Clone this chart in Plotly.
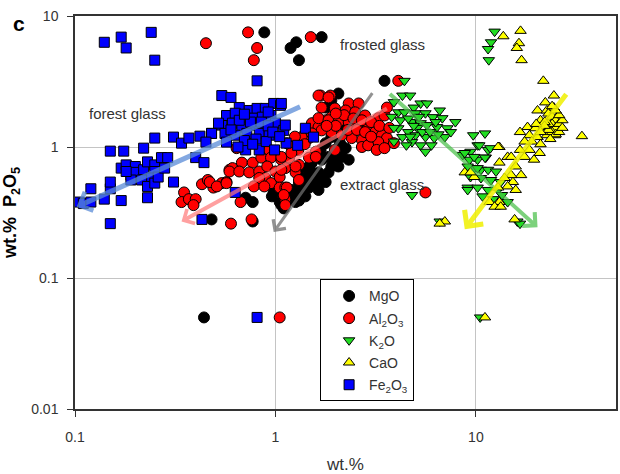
import math
import plotly.graph_objects as go

# (wt.% oxide, wt.% P2O5) pairs per oxide
MGO = [(0.88, 7.5), (1.27, 6.3), (1.19, 5.7), (1.31, 4.6), (1.70, 6.9), (3.5, 3.2),
       (2.06, 2.56), (1.9, 2.26), (1.78, 2.0), (2.4, 1.66), (2.6, 1.6), (2.24, 1.42),
       (2.5, 1.34), (2.7, 1.42), (2.85, 1.2), (1.9, 1.19), (2.1, 1.07), (2.24, 0.98),
       (1.78, 1.07), (1.68, 0.95), (1.59, 0.87), (1.84, 0.84), (1.7, 0.8), (1.52, 0.76),
       (1.98, 0.8), (2.14, 0.84), (2.32, 0.8), (2.06, 0.71), (1.9, 0.71), (1.47, 0.67),
       (1.64, 0.64), (1.84, 0.64), (1.41, 0.58), (1.59, 0.54), (1.78, 0.54), (1.31, 0.53),
       (1.47, 0.49), (1.64, 0.47), (1.31, 0.45), (1.41, 0.42), (1.21, 0.42), (1.26, 0.38),
       (1.12, 0.40), (1.17, 0.41), (1.05, 0.38), (0.98, 0.45), (1.07, 0.36), (0.77, 0.27),
       (0.48, 0.28), (1.35, 0.56), (1.47, 0.71), (1.31, 0.67), (1.52, 0.56), (0.71, 0.41),
       (0.77, 0.38), (0.96, 0.42), (1.31, 0.39), (1.55, 0.62), (1.7, 0.58), (1.38, 0.50),
       (1.2, 0.47), (1.1, 0.34), (0.44, 0.05)]

AL2O3 = [(0.45, 6.2), (0.73, 7.5), (0.81, 5.7), (0.78, 4.6), (1.50, 6.9), (4.1, 3.2),
         (5.6, 0.45), (1.05, 0.05),
         (0.35, 0.45), (0.34, 0.38), (0.37, 0.40), (0.40, 0.40), (0.39, 0.36), (0.43, 0.52),
         (0.46, 0.56), (0.49, 0.49), (0.54, 0.53), (0.57, 0.54), (0.59, 0.67), (0.60, 0.26),
         (0.64, 0.98), (0.93, 0.95), (1.14, 1.07), (0.61, 0.69), (0.68, 0.76), (0.77, 0.76),
         (0.85, 0.83), (0.95, 0.83), (1.07, 0.80), (1.17, 0.77), (0.59, 0.65), (0.66, 0.65),
         (0.74, 0.64), (0.83, 0.65), (0.91, 0.71), (1.0, 0.65), (1.12, 0.69), (0.89, 0.58),
         (0.95, 0.53), (0.83, 0.58), (1.05, 0.59), (0.47, 0.54), (0.51, 0.50), (0.57, 0.53),
         (0.78, 0.50), (0.88, 0.50), (1.05, 0.49), (1.12, 0.49), (0.67, 0.38), (1.12, 0.40),
         (0.76, 0.28),
         (1.68, 2.47), (1.88, 2.47), (1.52, 1.52), (1.64, 1.42), (1.78, 1.6), (1.9, 1.69),
         (1.47, 1.17), (1.59, 0.92), (1.47, 0.83), (1.31, 0.73), (1.26, 0.64), (1.31, 0.56),
         (1.64, 2.47), (1.84, 2.39), (2.32, 2.15), (2.6, 2.15), (1.7, 2.0), (1.98, 1.97),
         (2.24, 1.9), (2.5, 1.84), (2.8, 1.74), (1.64, 1.66), (1.84, 1.6), (2.06, 1.55),
         (2.32, 1.55), (2.6, 1.52), (2.9, 1.47), (3.26, 1.66), (3.5, 1.74), (3.6, 2.0),
         (3.15, 1.3), (3.4, 1.23), (3.6, 1.17), (3.26, 1.09), (3.9, 1.07), (2.7, 1.13),
         (2.4, 1.17), (2.14, 1.23), (1.9, 1.3), (1.7, 1.34), (1.52, 1.27), (1.35, 1.19),
         (1.17, 0.83), (1.07, 0.84), (1.26, 0.71), (1.59, 0.84), (1.98, 0.95), (1.07, 0.67),
         (1.14, 0.49), (1.10, 0.43), (1.12, 0.36), (2.7, 1.0), (2.9, 1.03),
         (2.2, 1.75), (2.0, 1.8), (2.45, 1.65), (2.7, 1.6), (3.0, 1.55), (2.3, 1.35),
         (2.55, 1.35), (2.8, 1.3), (3.0, 1.2), (2.0, 1.45), (1.8, 1.45), (3.3, 1.45),
         (3.7, 1.4), (1.2, 1.0), (1.3, 0.95), (1.4, 1.05), (1.25, 1.2), (1.2, 0.9),
         (3.2, 0.95), (3.5, 0.98)]

K2O = [(12.4, 7.6), (11.9, 6.3), (11.5, 5.6), (11.6, 4.6),
       (4.4, 3.2), (4.3, 2.47), (4.7, 2.47), (5.3, 2.15), (5.7, 2.15), (4.9, 2.0),
       (6.6, 1.9), (7.9, 1.55), (4.1, 1.84), (4.4, 1.84), (5.0, 1.81), (5.6, 1.81),
       (6.1, 1.69), (6.8, 1.66), (4.2, 1.6), (4.8, 1.55), (5.3, 1.52), (5.7, 1.47),
       (6.4, 1.42), (7.2, 1.39), (4.1, 1.39), (4.6, 1.3), (5.0, 1.23), (5.6, 1.19),
       (6.2, 1.17), (7.0, 1.19), (4.3, 1.19), (4.8, 1.09), (5.3, 1.03), (6.0, 1.03),
       (5.6, 0.92), (4.5, 1.03), (3.9, 1.4), (3.9, 1.1), (3.8, 1.7), (3.9, 2.2),
       (4.6, 1.65), (5.1, 1.4), (5.4, 1.3), (4.9, 1.45), (5.9, 1.3), (6.5, 1.25),
       (7.5, 1.3), (5.2, 1.7), (4.7, 1.2), (6.3, 1.55),
       (4.8, 0.43), (6.6, 0.27),
       (9.7, 1.23), (11.1, 1.27), (8.6, 0.87), (9.4, 0.92), (10.2, 1.03), (11.5, 0.95),
       (9.3, 0.8), (10.2, 0.8), (11.2, 0.83), (9.8, 0.69), (10.6, 0.67), (9.1, 0.49),
       (11.9, 0.56), (10.4, 1.03), (11.8, 0.98), (8.8, 0.9), (9.8, 0.84), (11.1, 0.83),
       (9.1, 0.71), (10.2, 0.69), (11.5, 0.67), (12.6, 0.65), (9.4, 0.59), (10.6, 0.58),
       (13.3, 0.54), (9.1, 0.47), (10.2, 0.49), (11.5, 0.47), (12.9, 0.47), (10.8, 0.42),
       (12.2, 0.40), (13.5, 0.43), (14.4, 0.38), (16.1, 0.27), (16.6, 0.26),
       (10.5, 0.05)]

CAO = [(13.7, 7.0), (16.7, 7.7), (16.4, 6.2), (16.0, 5.7), (16.9, 4.6),
       (21.7, 3.2), (24.5, 2.47), (22.2, 2.19), (20.3, 1.9), (22.6, 1.9), (24.5, 2.0),
       (21.0, 1.6), (23.1, 1.66), (25.4, 1.69), (18.1, 1.42), (19.8, 1.39), (21.9, 1.42),
       (24.0, 1.42), (26.0, 1.42), (16.6, 1.3), (18.5, 1.23), (20.3, 1.19), (22.6, 1.23),
       (24.8, 1.23), (33.8, 1.21), (16.6, 0.95), (18.5, 0.95), (20.8, 0.9), (17.5, 0.84),
       (19.5, 0.8), (13.1, 1.0), (14.4, 0.84), (13.1, 0.76), (15.8, 0.71), (16.8, 0.61),
       (15.0, 0.61), (8.8, 0.64), (9.8, 0.59), (13.9, 0.58), (15.3, 0.54), (14.4, 0.5),
       (12.9, 0.49), (15.8, 0.47), (11.7, 0.38), (13.1, 0.38), (12.4, 0.35), (13.3, 0.35),
       (15.6, 0.28), (7.0, 0.27), (6.6, 0.26), (12.9, 1.0), (15.0, 0.84), (9.4, 0.64),
       (23.0, 1.8), (24.0, 1.7), (25.0, 1.6), (24.0, 1.5), (25.0, 1.4), (26.0, 1.5),
       (23.0, 1.5), (22.0, 1.55), (24.0, 1.3), (25.0, 1.25), (26.0, 1.3), (23.0, 1.35),
       (22.0, 1.45), (27.0, 1.6), (26.0, 1.75), (27.0, 1.4), (25.0, 1.9), (24.0, 2.05),
       (21.0, 1.3), (20.0, 1.5), (19.0, 1.1), (21.0, 1.05), (17.5, 1.1), (23.5, 1.15),
       (11.1, 0.05)]

FE2O3 = [(0.14, 6.3), (0.17, 6.9), (0.18, 5.7), (0.24, 7.5), (0.25, 4.6), (0.81, 3.2),
         (0.81, 0.05),
         (0.105, 0.38), (0.11, 0.37), (0.12, 0.38), (0.12, 0.48), (0.15, 0.48), (0.15, 0.54),
         (0.14, 0.40), (0.17, 0.39), (0.15, 0.26), (0.15, 0.93), (0.175, 0.93), (0.22, 0.98),
         (0.25, 1.17), (0.31, 1.19), (0.34, 1.07), (0.37, 1.17), (0.42, 1.21), (0.48, 1.27),
         (0.54, 1.47), (0.40, 0.83), (0.44, 0.76), (0.17, 0.69), (0.18, 0.73), (0.20, 0.71),
         (0.19, 0.61), (0.20, 0.64), (0.22, 0.67), (0.23, 0.77), (0.25, 0.73), (0.27, 0.83),
         (0.29, 0.83), (0.25, 0.65), (0.24, 0.58), (0.215, 0.56), (0.23, 0.50), (0.25, 0.53),
         (0.26, 0.59), (0.23, 0.41), (0.31, 0.54), (0.19, 0.56), (0.18, 0.65), (0.28, 0.69),
         (0.54, 2.47), (0.60, 2.39), (0.66, 2.0), (0.74, 1.90), (0.81, 1.97), (0.89, 1.97),
         (0.98, 2.15), (1.06, 2.08), (0.57, 1.74), (0.63, 1.81), (0.71, 1.66), (0.78, 1.66),
         (0.86, 1.69), (0.95, 1.74), (0.52, 1.52), (0.61, 1.52), (0.68, 1.42), (0.77, 1.47),
         (0.87, 1.42), (1.0, 1.52), (1.10, 1.34), (0.48, 1.27), (0.56, 1.27), (0.63, 1.23),
         (0.72, 1.27), (0.83, 1.27), (0.93, 1.23), (0.45, 1.09), (0.57, 1.09), (0.71, 0.95),
         (0.83, 0.95), (1.13, 1.07), (1.29, 1.03), (1.41, 1.39), (1.55, 1.19), (1.07, 2.15),
         (1.12, 1.47), (0.43, 0.28), (0.63, 0.45),
         (0.66, 1.6), (0.75, 1.55), (0.85, 1.55), (0.92, 1.45), (0.6, 1.35), (0.7, 1.12),
         (0.8, 1.15), (0.9, 1.1), (0.65, 1.0), (0.77, 1.05), (0.97, 1.3), (1.05, 1.2),
         (0.99, 0.95), (0.92, 1.85), (0.7, 1.78)]

# trend arrows: (tail x, tail y, head x, head y, colour, width, head size)
ARROWS = [
    (1.35, 2.05, 0.102, 0.35, "rgba(90,140,215,0.75)", 5, 0.8),
    (3.66, 2.0, 0.34, 0.27, "rgba(255,120,120,0.7)", 4, 0.8),
    (3.08, 2.65, 0.98, 0.224, "rgba(110,110,110,0.75)", 3, 1.0),
    (3.66, 2.6, 20.3, 0.244, "rgba(70,190,70,0.7)", 4, 0.9),
    (28.6, 2.6, 8.8, 0.236, "rgba(240,240,0,0.85)", 5, 0.9),
]

# text labels: (text, x, y)
GROUP_LABELS = [
    ("forest glass", 0.115, 1.81),
    ("frosted glass", 2.06, 6.1),
    ("extract glass", 2.06, 0.52),
]

SERIES = [
    ("MgO", MGO, "circle", "#000000", 11),
    ("Al<sub>2</sub>O<sub>3</sub>", AL2O3, "circle", "#ff0000", 11),
    ("K<sub>2</sub>O", K2O, "triangle-down", "#22dd22", 10),
    ("CaO", CAO, "triangle-up", "#ffff00", 10),
    ("Fe<sub>2</sub>O<sub>3</sub>", FE2O3, "square", "#0000ff", 10),
]

FONT = "Liberation Sans, Arial, sans-serif"

# plot-area geometry in pixels (used to place paper-anchored items)
PLOT_L, PLOT_R, PLOT_T, PLOT_B = 75, 618, 16, 413
PW, PH = PLOT_R - PLOT_L, PLOT_B - PLOT_T


def paper_x(px):
    return (px - PLOT_L) / PW


def paper_y(py):
    return (PLOT_B - py) / PH


fig = go.Figure()
for name, pts, symbol, color, size in SERIES:
    fig.add_trace(go.Scatter(
        x=[p[0] for p in pts], y=[p[1] for p in pts],
        mode="markers", name=name, legendgroup=name,
        marker=dict(symbol=symbol, color=color, size=size,
                    line=dict(color="#000000", width=1)),
    ))

for tx, ty, hx, hy, color, width, hsize in ARROWS:
    fig.add_annotation(
        x=math.log10(hx), y=math.log10(hy),
        ax=math.log10(tx), ay=math.log10(ty),
        xref="x", yref="y", axref="x", ayref="y",
        text="", showarrow=True, arrowhead=4, arrowsize=hsize,
        arrowwidth=width, arrowcolor=color,
    )

for text, lx, ly in GROUP_LABELS:
    fig.add_annotation(
        x=math.log10(lx), y=math.log10(ly), xref="x", yref="y",
        text=text, showarrow=False, xanchor="left", yanchor="middle",
        font=dict(family=FONT, size=15, color="#333333"),
    )

# panel letter
fig.add_annotation(
    x=paper_x(19), y=paper_y(24), xref="paper", yref="paper", text="<b>c</b>",
    xanchor="center", yanchor="middle",
    showarrow=False, font=dict(family=FONT, size=21, color="#000000"),
)

axis_common = dict(
    type="log", dtick=1, showgrid=True, gridcolor="#c4c4c4", gridwidth=1,
    showline=True, linecolor="#333333", linewidth=1.5, mirror=True,
    ticks="outside", ticklen=6, tickcolor="#333333", zeroline=False,
    tickfont=dict(family=FONT, size=14, color="#333333"),
)

fig.update_xaxes(
    range=[-1, math.log10(50)],
    title=dict(text="wt.%", font=dict(family=FONT, size=17, color="#333333"), standoff=16),
    ticklabelstandoff=8,
    **axis_common,
)
fig.update_yaxes(
    range=[-2, 1],
    title=dict(text="<b>wt.%  P<sub>2</sub>O<sub>5</sub></b>",
               font=dict(family=FONT, size=18, color="#000000"), standoff=12),
    ticklabelstandoff=6,
    **axis_common,
)

fig.update_layout(
    width=620, height=474,
    margin=dict(l=PLOT_L, r=620 - PLOT_R, t=PLOT_T, b=474 - PLOT_B),
    paper_bgcolor="white", plot_bgcolor="white",
    showlegend=True,
    legend=dict(
        x=paper_x(321), y=paper_y(282), xanchor="left", yanchor="top",
        bgcolor="white", bordercolor="#000000", borderwidth=1,
        font=dict(family=FONT, size=14, color="#333333"),
        itemsizing="trace", tracegroupgap=1, indentation=8,
    ),
    font=dict(family=FONT),
)

fig.write_html("out.html")
